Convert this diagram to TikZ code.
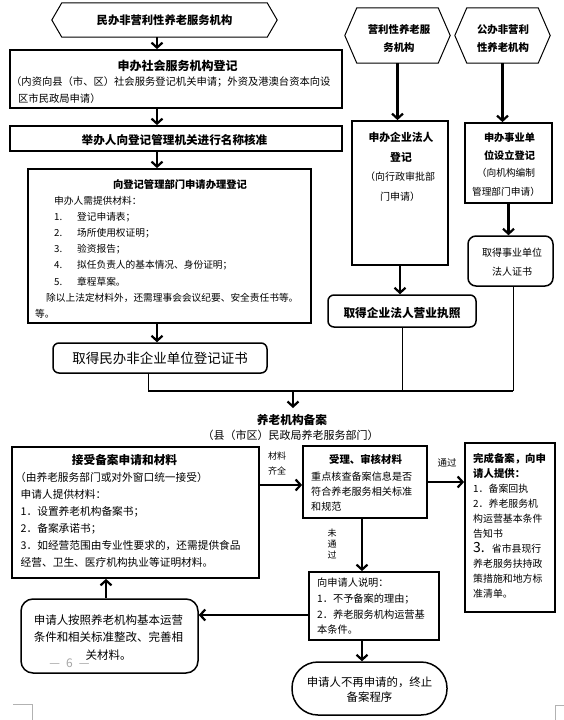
\documentclass[tikz,border=0pt]{standalone}
\usepackage{fontspec}
\setmainfont{Noto Sans CJK SC}
\usetikzlibrary{arrows.meta,calc}
\newcommand\myfs[2]{\fontsize{#1pt}{#2pt}\selectfont}
\begin{document}
\begin{tikzpicture}[x=1pt,y=-1pt,
  box/.style={draw, line width=1.8pt, inner sep=0pt},
  rbox/.style={draw, line width=1.5pt, rounded corners=6pt, inner sep=0pt},
  hexline/.style={line width=1pt},
  arr/.style={line width=2.2pt, -{Straight Barb[length=5pt,width=11pt]}},
  thinline/.style={line width=0.8pt},
  joinline/.style={line width=2pt},
  txt/.style={inner sep=0pt, align=left, anchor=north west},
  ctr/.style={inner sep=0pt, align=center},
  crop/.style={draw=gray!60, line width=0.6pt}
]
\useasboundingbox (0,0) rectangle (564,720);
\fill[white] (0,0) rectangle (564,720);

% ---------- top-left hexagon ----------
\node[inner sep=0pt, minimum width=225, minimum height=34] (h0) at (164.5,20) {\bfseries\myfs{11.3}{12}民办非营利性养老服务机构};
\draw[hexline] (h0.west) -- ([xshift=10pt]h0.north west) -- ([xshift=-10pt]h0.north east) -- (h0.east) -- ([xshift=-10pt]h0.south east) -- ([xshift=10pt]h0.south west) -- cycle;

\coordinate (ax) at (157,0);

% ---------- b1 ----------
\node[box, minimum width=332, minimum height=58] (b1) at (176,79) {};
\node[ctr, font=\bfseries\myfs{12}{12}] (b1t) at (177.5,66) {申办社会服务机构登记};
\node[txt, font=\myfs{10.3}{12}] (b1s) at (11,76.8) {（内资向县（市、区）社会服务登记机关申请；外资及港澳台资本向设};
\node[txt, font=\myfs{10.3}{12}] (b1u) at (18,93.8) {区市民政局申请）};

% ---------- b2 ----------
\node[box, minimum width=332, minimum height=25] (b2) at (176,138.5) {};
\node[ctr, font=\bfseries\myfs{11.6}{12}] (b2t) at (174.5,140) {举办人向登记管理机关进行名称核准};

% ---------- b3 ----------
\node[box, minimum width=283, minimum height=154] (b3) at (169.5,246) {};
\node[ctr, font=\bfseries\myfs{10.3}{12}] (b3t) at (180,185) {向登记管理部门申请办理登记};
\node[txt, font=\myfs{9.7}{16.1}] (b3l) at (54,196.2) {申办人需提供材料：\\
\makebox[23pt][l]{1.}登记申请表；\\
\makebox[23pt][l]{2.}场所使用权证明；\\
\makebox[23pt][l]{3.}验资报告；\\
\makebox[23pt][l]{4.}拟任负责人的基本情况、身份证明；\\
\makebox[23pt][l]{5.}章程草案。};
\node[txt, font=\myfs{9.7}{12}] (b3m) at (46,293.2) {除以上法定材料外，还需理事会会议纪要、安全责任书等。};
\node[txt, font=\myfs{9.7}{12}] (b3n) at (35,309.2) {等。};

% ---------- r1 ----------
\node[rbox, minimum width=214, minimum height=30] (r1) at (160,358) {\myfs{13.5}{14}取得民办非企业单位登记证书};

% ---------- right hexagons ----------
\node[inner sep=0pt, minimum width=105, minimum height=55] (hx1) at (397.5,35.5) {};
\draw[hexline] (hx1.west) -- ([xshift=12pt]hx1.north west) -- ([xshift=-12pt]hx1.north east) -- (hx1.east) -- ([xshift=-12pt]hx1.south east) -- ([xshift=12pt]hx1.south west) -- cycle;
\node[ctr, font=\bfseries\myfs{10.4}{18}] (hx1t) at (399,39) {营利性养老服\\务机构};

\node[inner sep=0pt, minimum width=95, minimum height=55] (hx2) at (502.5,35.5) {};
\draw[hexline] (hx2.west) -- ([xshift=12pt]hx2.north west) -- ([xshift=-12pt]hx2.north east) -- (hx2.east) -- ([xshift=-12pt]hx2.south east) -- ([xshift=12pt]hx2.south west) -- cycle;
\node[ctr, font=\bfseries\myfs{10.4}{18}] (hx2t) at (503,39) {公办非营利\\性养老机构};

% ---------- e1 / e2 ----------
\node[box, minimum width=96, minimum height=144] (e1) at (400,193) {};
\node[ctr, font=\bfseries\myfs{10.8}{20}] (e1t) at (401,147) {申办企业法人\\登记};
\node[ctr, font=\myfs{10}{20}] (e1s) at (400,187) {（向行政审批部\\门申请）};
\node[rbox, minimum width=148, minimum height=32] (e2) at (402,311) {};
\node[ctr, font=\bfseries\myfs{11.7}{12}] (e2t) at (402,313) {取得企业法人营业执照};

% ---------- s1 / s2 ----------
\node[box, minimum width=87, minimum height=80] (s1) at (508.5,163) {};
\node[ctr, font=\bfseries\myfs{10.2}{18}] (s1t) at (509.5,147) {申办事业单\\位设立登记};
\node[ctr, font=\myfs{9.7}{19}] (s1s) at (506,182.5) {（向机构编制\\管理部门申请）};
\node[rbox, rounded corners=8pt, minimum width=85, minimum height=50] (s2) at (510.5,261) {};
\node[ctr, font=\myfs{10}{19}] (s2t) at (512,262.5) {取得事业单位\\法人证书};

% ---------- arrows upper part ----------
\draw[arr] (h0.south -| ax) -- (b1.north -| ax);
\draw[arr] (b1.south -| ax) -- (b2.north -| ax);
\draw[arr] (b2.south -| ax) -- (b3.north -| ax);
\draw[arr] (b3.south -| ax) -- (r1.north -| ax);
\draw[arr] (hx1.south) -- (hx1.south |- e1.north);
\draw[arr] (e1.south) -- (e1.south |- e2.north);
\draw[arr] (hx2.south) -- (hx2.south |- s1.north);
\draw[arr] (s1.south) -- (s1.south |- s2.north);

% ---------- joining lines ----------
\coordinate (j1) at (148,391);
\coordinate (j2) at (293,391);
\coordinate (j2e) at (293,408);
\coordinate (j3) at (513,391);
\draw[thinline] (r1.south -| j1) -- (j1);
\draw[thinline] (e2.south) -- (e2.south |- j1);
\draw[thinline] (s2.south -| j3) -- (j3);
\draw[joinline] (j1) -- (j3);
\draw[arr] (j2) -- (j2e);

% ---------- filing title ----------
\node[ctr, font=\bfseries\myfs{11.7}{12}] (f0) at (292,420) {养老机构备案};
\node[ctr, font=\myfs{11}{12}] (f0b) at (290.5,435) {（县（市区）民政局养老服务部门）};

% ---------- g1 ----------
\node[box, minimum width=247, minimum height=131] (g1) at (135.5,512.5) {};
\node[ctr, font=\bfseries\myfs{11.7}{12}] (g1t) at (124.5,460) {接受备案申请和材料};
\node[txt, font=\myfs{10.7}{12}] (g1s) at (15,472.6) {（由养老服务部门或对外窗口统一接受）};
\node[txt, font=\myfs{10.7}{17}] (g1l) at (20.5,489.6) {申请人提供材料：\\
1．设置养老机构备案书；\\
2．备案承诺书；\\
3．如经营范围由专业性要求的，还需提供食品\\
经营、卫生、医疗机构执业等证明材料。};

% ---------- g2 ----------
\node[box, minimum width=124, minimum height=72] (g2) at (365,482) {};
\node[ctr, font=\bfseries\myfs{10.4}{12}] (g2t) at (365.5,459) {受理、审核材料};
\node[txt, font=\myfs{10.1}{15}] (g2l) at (311,471.9) {重点核查备案信息是否\\符合养老服务相关标准\\和规范};

% ---------- g3 ----------
\node[box, minimum width=90, minimum height=169] (g3) at (510,527.5) {};
\node[txt, font=\bfseries\myfs{10.4}{15}] (g3t) at (473,452.8) {完成备案，向申\\请人提供：};
\node[txt, font=\myfs{9.9}{15}] (g3l) at (473,484) {1．备案回执\\
2．养老服务机\\
构运营基本条件\\
告知书\\
{\fontsize{14pt}{15pt}\selectfont 3.}\hspace{7pt}省市县现行\\
养老服务扶持政\\
策措施和地方标\\
准清单。};

% ---------- g4 ----------
\node[box, minimum width=130, minimum height=68] (g4) at (374,606) {};
\node[txt, font=\myfs{10.2}{15.7}] (g4l) at (317,577.9) {向申请人说明：\\
1．不予备案的理由；\\
2．养老服务机构运营基\\
本条件。};

% ---------- g5 ----------
\node[rbox, rounded corners=12pt, minimum width=177, minimum height=74] (g5) at (109.5,636) {};
\node[ctr, font=\myfs{11.5}{17.5}] (g5t) at (108.5,637.5) {申请人按照养老机构基本运营\\条件和相关标准整改、完善相\\关材料。};
\node[ctr, font=\myfs{12}{12}, text=gray!70] (pg) at (69.5,663) {—\hspace{6pt}6\hspace{6pt}—};

% ---------- g6 ----------
\node[rbox, rounded corners=26pt, minimum width=155, minimum height=53] (g6) at (369.5,688.5) {};
\node[ctr, font=\myfs{11.4}{15}] (g6t) at (369.5,690) {申请人不再申请的，终止\\备案程序};

% ---------- lower arrows and labels ----------
\coordinate (yl1) at (0,485);
\coordinate (yl3) at (0,615);
\coordinate (xv) at (362,0);
\coordinate (xv2) at (106,0);
\draw[arr] (g1.east |- yl1) -- (g2.west |- yl1);
\draw[arr] (g2.east) -- (g3.west |- g2.east);
\draw[arr] (g2.south -| xv) -- (g4.north -| xv);
\draw[arr] (g4.west |- yl3) -- (g5.east |- yl3);
\draw[arr] (g5.north -| xv2) -- (g1.south -| xv2);
\draw[arr] (g4.south -| xv) -- (g6.north -| xv);
\node[ctr, font=\myfs{9}{15}] (lb1) at (277,463.5) {材料\\齐全};
\node[ctr, font=\myfs{9.5}{12}] (lb2) at (447,463) {通过};
\node[ctr, font=\myfs{9}{11}] (lb3) at (332,544) {未\\通\\过};

% ---------- crop marks ----------
\draw[crop] (13,704) -- (32,704) -- (32,720);
\draw[crop] (564,705) -- (555,705) -- (555,720);
\end{tikzpicture}
\end{document}
